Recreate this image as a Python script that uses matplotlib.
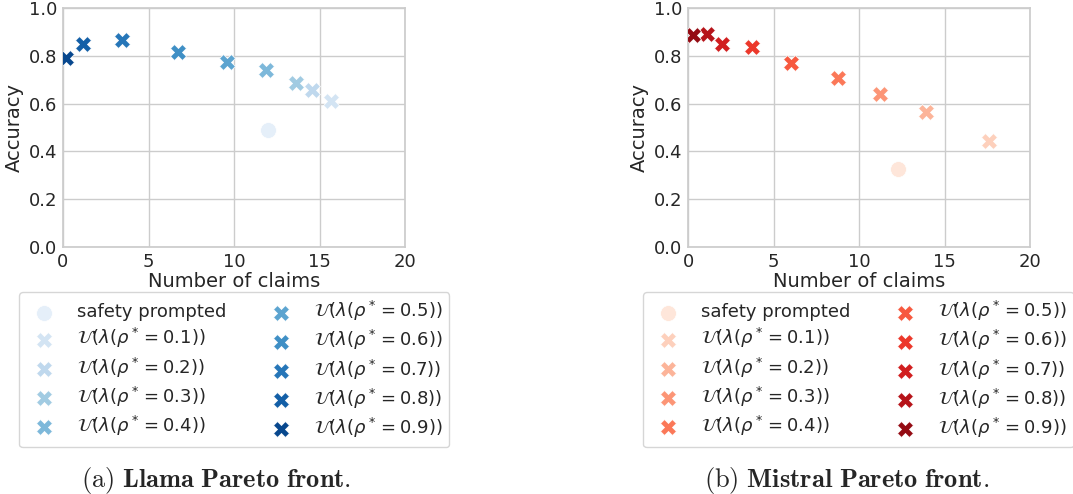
import matplotlib
matplotlib.use("Agg")
import matplotlib.pyplot as plt
import seaborn as sns

sns.set_theme(style="whitegrid")
plt.rcParams['font.family'] = ['DejaVu Sans']

rhos = [0.1, 0.2, 0.3, 0.4, 0.5, 0.6, 0.7, 0.8, 0.9]

llama_claims = [15.66, 14.57, 13.63, 11.84, 9.58, 6.72, 3.47, 1.17, 0.2]
llama_acc = [0.610, 0.655, 0.684, 0.742, 0.775, 0.814, 0.866, 0.850, 0.790]
llama_safety = (12.0, 0.491)

mistral_claims = [17.6, 13.9, 11.19, 8.79, 6.04, 3.76, 1.99, 1.09, 0.27]
mistral_acc = [0.445, 0.566, 0.642, 0.705, 0.771, 0.837, 0.849, 0.890, 0.887]
mistral_safety = (12.28, 0.327)

fig = plt.figure(figsize=(10.73, 4.94), dpi=100)

panels = [
    (0.0587, "Blues", llama_claims, llama_acc, llama_safety, 0.0177, 0.2013, "a", "Llama"),
    (0.6412, "Reds", mistral_claims, mistral_acc, mistral_safety, 0.5993, 0.7894, "b", "Mistral"),
]

for left, cmap, xs, ys, safe, leg_x, cap_x, tag, name in panels:
    ax = fig.add_axes([left, 0.5, 0.319, 0.484])
    pal = sns.color_palette(cmap, 10)
    ax.scatter([safe[0]], [safe[1]], color=pal[0], marker="o", s=130,
               edgecolor="white", linewidth=0.5, label="safety prompted", zorder=3)
    for i, r in enumerate(rhos):
        ax.scatter([xs[i]], [ys[i]], color=pal[i + 1], marker="X", s=130,
                   edgecolor="white", linewidth=0.5, zorder=3,
                   label=r"$\mathcal{U}(\lambda(\rho^*=%.1f))$" % r)
    ax.set_xlim(0, 20)
    ax.set_ylim(0, 1)
    ax.set_xticks([0, 5, 10, 15, 20])
    ax.set_yticks([0, 0.2, 0.4, 0.6, 0.8, 1.0])
    ax.tick_params(length=0, labelsize=13, pad=4)
    ax.set_xlabel("Number of claims", fontsize=14)
    ax.set_ylabel("Accuracy", fontsize=14)
    ax.xaxis.set_label_coords(0.5, -0.105)
    ax.yaxis.set_label_coords(-0.113, 0.5)
    fig.legend(*ax.get_legend_handles_labels(), loc="upper left",
               bbox_to_anchor=(leg_x, 0.409), borderaxespad=0, ncol=2, fontsize=13,
               labelspacing=0.28, columnspacing=2.05, handletextpad=0.8,
               borderpad=0.4, frameon=True)
    fig.text(cap_x, 0.014, r"$\mathrm{(%s)}\ \mathbf{%s\ Pareto\ front.}$" % (tag, name),
             ha="center", va="baseline", fontsize=19, math_fontfamily="cm")

plt.savefig("out.png", dpi=100)
